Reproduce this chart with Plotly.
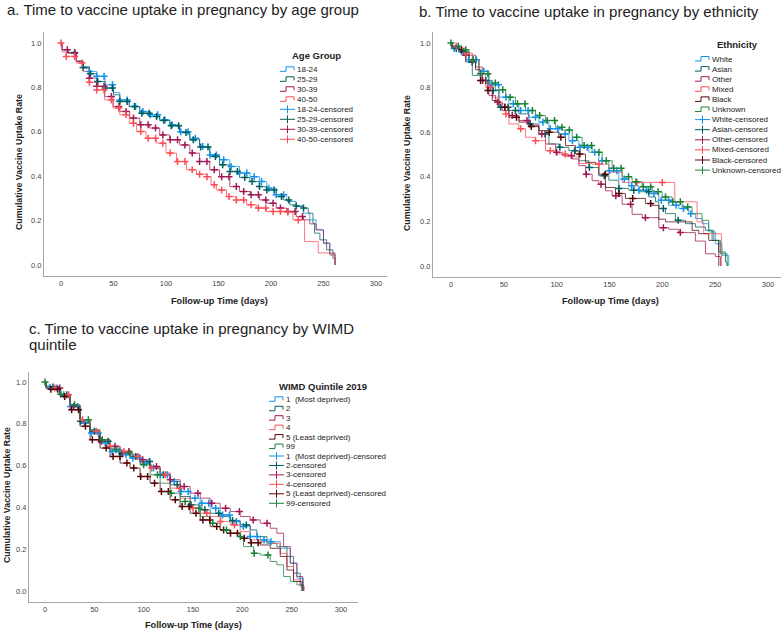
import plotly.graph_objects as go

W, H = 784, 632

# ---------------- Panel a: age group ----------------
a_labels = ["18-24", "25-29", "30-39", "40-50"]
a_days_18_24 = [0, 1, 6.7, 14.6, 21, 27, 34, 42, 50, 56, 65, 75, 84.5, 94, 103.6, 113, 122.7, 132, 141.7, 151, 160.8, 170, 180, 189, 196, 205, 215, 224, 231, 237, 243, 250, 256, 261]
a_surv_18_24 = [1.0, 0.97, 0.955, 0.917, 0.895, 0.872, 0.85, 0.812, 0.777, 0.744, 0.714, 0.692, 0.677, 0.654, 0.632, 0.60, 0.571, 0.534, 0.496, 0.474, 0.444, 0.414, 0.398, 0.376, 0.346, 0.316, 0.286, 0.263, 0.233, 0.203, 0.158, 0.098, 0.053, 0.0]
a_days_25_29 = [0, 1, 6.7, 14.6, 21, 27, 34, 42, 50, 56, 65, 75, 84.5, 94, 103.6, 113, 122.7, 132, 141.7, 151, 160.8, 170, 180, 189, 196, 205, 211.6, 218, 224, 230.7, 235.5, 240, 241.5, 246.6, 253, 259, 261]
a_surv_25_29 = [1.0, 0.97, 0.958, 0.92, 0.89, 0.862, 0.827, 0.797, 0.767, 0.737, 0.714, 0.684, 0.669, 0.651, 0.627, 0.597, 0.564, 0.531, 0.489, 0.451, 0.421, 0.394, 0.376, 0.353, 0.338, 0.308, 0.293, 0.271, 0.266, 0.256, 0.233, 0.188, 0.143, 0.113, 0.068, 0.03, 0.0]
a_days_30_39 = [0, 1, 6.7, 14.6, 21, 27, 34, 41.6, 49.6, 56, 65.5, 75, 84.5, 94, 103.6, 113, 122.7, 132, 141.7, 151, 160.8, 170, 180, 189, 196, 205, 215, 224, 231, 237, 243, 250, 256, 261]
a_surv_30_39 = [1.0, 0.97, 0.955, 0.917, 0.887, 0.842, 0.805, 0.759, 0.714, 0.692, 0.662, 0.632, 0.617, 0.586, 0.564, 0.541, 0.504, 0.466, 0.429, 0.398, 0.353, 0.331, 0.316, 0.293, 0.278, 0.256, 0.241, 0.218, 0.203, 0.185, 0.158, 0.098, 0.045, 0.0]
a_days_40_50 = [0, 1, 5, 14.6, 21, 27, 34, 41.6, 49.6, 56, 65, 72, 81, 91, 100, 110, 119.5, 129, 138.5, 143, 148, 157.6, 167, 176.7, 186, 195.7, 205, 214, 221, 232, 245, 261]
a_surv_40_50 = [1.0, 0.96, 0.94, 0.91, 0.872, 0.823, 0.789, 0.744, 0.707, 0.677, 0.639, 0.601, 0.571, 0.549, 0.504, 0.466, 0.429, 0.409, 0.398, 0.361, 0.338, 0.308, 0.293, 0.271, 0.256, 0.241, 0.241, 0.238, 0.203, 0.105, 0.054, 0.0]
a_cens_18_24 = [27, 34, 41, 49, 56, 63, 71, 78, 85, 92, 99, 106, 114, 121, 128, 135, 142, 148, 155, 162, 170, 177, 184, 191, 198, 205, 212]
a_cens_25_29 = [13, 21, 28, 35, 42, 49, 56, 63, 70, 77, 84, 91, 98, 105, 112, 119, 126, 133, 140, 147, 154, 161, 168, 175, 182, 189, 196, 203, 210, 217, 224, 231]
a_cens_30_39 = [6, 13, 27, 34, 41, 48, 55, 62, 69, 76, 83, 90, 97, 104, 111, 118, 125, 132, 139, 146, 153, 160, 167, 174, 181, 188, 195, 202, 209, 216, 223, 230]
a_cens_40_50 = [0, 5, 13, 20, 27, 34, 41, 48, 55, 62, 69, 76, 83, 90, 97, 104, 111, 118, 125, 132, 139, 146, 153, 160, 167, 174, 181, 188, 195, 202, 209, 216, 226]

# ---------------- Panel b: ethnicity ----------------
b_labels = ["White", "Asian", "Other", "Mixed", "Black", "Unknown"]
b_days_white = [0, 1, 7.6, 17, 26.5, 35.9, 45.4, 54.8, 64.3, 73.7, 83.2, 92.7, 102.1, 111.6, 121, 130.5, 139.9, 149.4, 158.8, 168.3, 177.7, 187.2, 196.7, 206.1, 215.6, 225, 231.3, 237.6, 243.9, 250.2, 256.5, 262.8]
b_surv_white = [1.0, 0.975, 0.96, 0.925, 0.873, 0.813, 0.757, 0.727, 0.697, 0.667, 0.645, 0.615, 0.592, 0.562, 0.532, 0.51, 0.472, 0.427, 0.39, 0.36, 0.34, 0.325, 0.295, 0.272, 0.258, 0.235, 0.213, 0.19, 0.153, 0.10, 0.048, 0.0]
b_days_asian = [0, 1, 7.6, 17, 20.2, 29.6, 39.1, 45.4, 54.8, 64.3, 73.7, 83.2, 92.7, 102.1, 111.6, 121, 130.5, 139.9, 149.4, 158.8, 168.3, 177.7, 187.2, 193.5, 196.7, 203, 212.4, 221.9, 231.3, 240.8, 247.1, 253.4, 259.7, 261.3]
b_surv_asian = [1.0, 0.975, 0.96, 0.915, 0.855, 0.832, 0.787, 0.712, 0.697, 0.682, 0.637, 0.592, 0.547, 0.532, 0.517, 0.472, 0.442, 0.405, 0.385, 0.348, 0.34, 0.333, 0.31, 0.288, 0.258, 0.235, 0.205, 0.19, 0.175, 0.16, 0.115, 0.063, 0.018, 0.0]
b_days_other = [0, 1, 7.6, 13.9, 23.3, 29.6, 35.9, 42.2, 48.5, 54.8, 64.3, 73.7, 83.2, 89.5, 99, 105.3, 114.7, 121, 127.3, 133.6, 139.9, 146.2, 152.5, 162, 171.4, 180.9, 190.4, 196.7, 206.1, 215.6, 225, 231.3, 240.8, 250.2, 255]
b_surv_other = [1.0, 0.98, 0.97, 0.945, 0.892, 0.832, 0.765, 0.735, 0.697, 0.675, 0.652, 0.63, 0.592, 0.547, 0.51, 0.495, 0.48, 0.45, 0.412, 0.383, 0.367, 0.337, 0.315, 0.277, 0.232, 0.217, 0.217, 0.172, 0.165, 0.15, 0.15, 0.112, 0.055, 0.043, 0.0]
b_days_mixed = [0, 1, 7.6, 13.9, 20.2, 26.5, 32.8, 39.1, 45.4, 51.7, 54.8, 64.3, 70.6, 80, 89.5, 99, 108.4, 121, 133.6, 146.2, 149.4, 162, 177.7, 190.4, 211.8, 232.9, 239.2, 255.9]
b_surv_mixed = [1.0, 0.985, 0.977, 0.955, 0.925, 0.862, 0.802, 0.757, 0.727, 0.682, 0.637, 0.615, 0.577, 0.562, 0.517, 0.502, 0.49, 0.46, 0.457, 0.457, 0.42, 0.375, 0.375, 0.375, 0.288, 0.198, 0.145, 0.0]
b_days_black = [0, 1, 7.6, 13.9, 23.3, 28, 34.4, 39.1, 45.4, 54.8, 64.3, 73.7, 83.2, 92.7, 102.1, 108.4, 117.9, 127.3, 136.8, 139.9, 146.2, 155.7, 165.1, 184, 190.4, 196.7, 203, 228.2, 234.5, 243.9, 253.4]
b_surv_black = [1.0, 0.98, 0.97, 0.915, 0.88, 0.832, 0.787, 0.742, 0.712, 0.667, 0.645, 0.625, 0.607, 0.60, 0.577, 0.54, 0.502, 0.465, 0.457, 0.412, 0.352, 0.325, 0.303, 0.28, 0.272, 0.21, 0.198, 0.16, 0.145, 0.115, 0.0]
b_days_unknown = [0, 1, 7.6, 17, 26.5, 35.9, 42.2, 51.7, 61.1, 70.6, 80, 89.5, 99, 105.3, 114.7, 124.2, 133.6, 143.1, 152.5, 162, 171.4, 180.9, 190.4, 199.8, 209.3, 218.7, 228.2, 237.6, 243.9, 248.7, 255, 261.3]
b_surv_unknown = [1.0, 0.985, 0.97, 0.925, 0.862, 0.82, 0.79, 0.757, 0.727, 0.697, 0.675, 0.652, 0.622, 0.61, 0.577, 0.54, 0.51, 0.472, 0.438, 0.40, 0.378, 0.355, 0.333, 0.31, 0.288, 0.265, 0.235, 0.205, 0.16, 0.115, 0.055, 0.0]
b_cens_white = [3, 10, 17, 24, 31, 38, 45, 52, 59, 66, 73, 80, 87, 94, 101, 108, 115, 122, 129, 136, 143, 150, 157, 164, 171, 178, 185, 192, 199, 206, 213, 220, 227]
b_cens_asian = [5, 12, 20, 33, 40, 47, 54, 61, 75, 89, 103, 117, 131, 145, 159, 173, 187, 201, 215]
b_cens_other = [14, 30, 44, 58, 72, 86, 100, 114, 128, 142, 156, 170, 184, 201, 217]
b_cens_mixed = [5, 14, 21, 37, 52, 66, 80, 94, 108, 140, 176, 200]
b_cens_black = [10, 28, 35, 51, 62, 76, 93, 104, 122, 146, 159, 172, 189]
b_cens_unknown = [0, 7, 14, 21, 28, 35, 42, 49, 56, 63, 70, 77, 84, 91, 98, 105, 112, 119, 126, 133, 140, 147, 154, 161, 168, 175, 182, 189, 196, 203, 210, 217, 224]

# ---------------- Panel c: WIMD quintile ----------------
c_labels = ["1  (Most deprived)", "2", "3", "4", "5 (Least deprived)", "99"]
c_days_1 = [0, 1, 5.1, 15.2, 25.4, 35.5, 45.7, 55.8, 65.9, 76.1, 86.2, 96.4, 106.5, 116.7, 126.8, 137, 147.1, 157.3, 167.4, 177.5, 187.7, 197.8, 208, 218.1, 228.3, 238.4, 248.6, 255.3, 262]
c_surv_1 = [1.0, 0.975, 0.971, 0.939, 0.883, 0.804, 0.756, 0.708, 0.668, 0.652, 0.636, 0.612, 0.588, 0.556, 0.524, 0.476, 0.444, 0.42, 0.396, 0.364, 0.332, 0.308, 0.26, 0.244, 0.236, 0.204, 0.133, 0.061, 0.0]
c_days_2 = [0, 1, 5.1, 15.2, 25.4, 35.5, 45.7, 55.8, 65.9, 76.1, 86.2, 96.4, 106.5, 116.7, 126.8, 137, 147.1, 157.3, 167.4, 177.5, 187.7, 197.8, 208, 214.7, 224.9, 235, 245.2, 251.9, 258.7, 262]
c_surv_2 = [1.0, 0.98, 0.976, 0.939, 0.887, 0.812, 0.764, 0.716, 0.684, 0.66, 0.644, 0.62, 0.588, 0.556, 0.508, 0.452, 0.412, 0.388, 0.372, 0.356, 0.337, 0.316, 0.292, 0.26, 0.228, 0.212, 0.165, 0.085, 0.029, 0.0]
c_days_3 = [0, 1, 5.1, 15.2, 25.4, 35.5, 45.7, 55.8, 65.9, 76.1, 86.2, 96.4, 106.5, 116.7, 126.8, 137, 147.1, 157.3, 167.4, 177.5, 187.7, 197.8, 208, 218.1, 228.3, 235, 241.8, 248.6, 255.3, 261]
c_surv_3 = [1.0, 0.975, 0.971, 0.935, 0.883, 0.804, 0.756, 0.716, 0.692, 0.668, 0.652, 0.628, 0.596, 0.564, 0.532, 0.5, 0.468, 0.444, 0.42, 0.396, 0.38, 0.356, 0.34, 0.324, 0.3, 0.276, 0.212, 0.133, 0.069, 0.0]
c_days_4 = [0, 1, 5.1, 15.2, 25.4, 35.5, 45.7, 55.8, 65.9, 76.1, 86.2, 96.4, 106.5, 116.7, 126.8, 137, 147.1, 157.3, 167.4, 177.5, 187.7, 197.8, 208, 218.1, 228.3, 238.4, 245.2, 251.9, 258.7, 262.7]
c_surv_4 = [1.0, 0.975, 0.971, 0.939, 0.891, 0.819, 0.764, 0.724, 0.692, 0.668, 0.644, 0.612, 0.588, 0.556, 0.492, 0.444, 0.396, 0.372, 0.356, 0.332, 0.316, 0.284, 0.244, 0.236, 0.228, 0.18, 0.117, 0.053, 0.021, 0.0]
c_days_5 = [0, 1, 5.1, 15.2, 25.4, 35.5, 45.7, 55.8, 65.9, 76.1, 86.2, 96.4, 106.5, 116.7, 126.8, 137, 147.1, 157.3, 167.4, 177.5, 187.7, 197.8, 208, 218.1, 228.3, 238.4, 245.2, 251.9, 260.4]
c_surv_5 = [1.0, 0.97, 0.966, 0.931, 0.867, 0.788, 0.724, 0.684, 0.644, 0.612, 0.588, 0.548, 0.516, 0.476, 0.436, 0.404, 0.372, 0.34, 0.308, 0.292, 0.276, 0.252, 0.231, 0.22, 0.204, 0.165, 0.10, 0.045, 0.0]
c_days_99 = [0, 1, 5.1, 15.2, 25.4, 35.5, 45.7, 55.8, 65.9, 76.1, 86.2, 96.4, 106.5, 116.7, 126.8, 137, 147.1, 157.3, 167.4, 177.5, 187.7, 197.8, 201.2, 211.4, 218.1, 228.3, 235, 241.8, 248.6, 255.3, 260.4]
c_surv_99 = [1.0, 0.98, 0.976, 0.942, 0.891, 0.819, 0.772, 0.724, 0.676, 0.66, 0.644, 0.604, 0.556, 0.516, 0.468, 0.428, 0.396, 0.356, 0.324, 0.292, 0.276, 0.26, 0.212, 0.18, 0.172, 0.141, 0.125, 0.069, 0.045, 0.029, 0.0]
c_cens_1 = [5, 12, 19, 26, 33, 40, 47, 54, 61, 68, 75, 82, 89, 96, 103, 110, 117, 124, 131, 138, 145, 152, 159, 166, 173, 180, 187, 194, 201, 208, 215, 222, 229]
c_cens_2 = [8, 22, 36, 50, 64, 78, 92, 106, 120, 134, 148, 162, 176, 190, 204]
c_cens_3 = [15, 29, 57, 71, 85, 99, 113, 127, 141, 155, 169, 183, 197, 211, 225]
c_cens_4 = [10, 24, 38, 52, 66, 80, 94, 108, 122, 136, 150, 164, 178, 192]
c_cens_5 = [6, 13, 20, 27, 34, 41, 48, 55, 62, 69, 76, 83, 90, 97, 104, 111, 118, 125, 132, 139, 146, 153, 160, 167, 174, 181, 188, 195, 202, 209, 216]
c_cens_99 = [0, 16, 30, 44, 58, 72, 86, 100, 114, 128, 142, 156, 170, 184, 198, 212, 226]

x_ticks = [0, 50, 100, 150, 200, 250, 300]
y_ticks = [0.0, 0.2, 0.4, 0.6, 0.8, 1.0]

BLUE, TEAL, MAG, RED, DRED, GREEN = "#1192e8", "#005d5d", "#9f1853", "#fa4d56", "#570408", "#198038"
a_colors = [BLUE, TEAL, MAG, RED]
b_colors = [BLUE, TEAL, MAG, RED, DRED, GREEN]
c_colors = [BLUE, TEAL, MAG, RED, DRED, GREEN]

panels = [
    ("x", "y", a_labels, a_colors,
     [(a_days_18_24, a_surv_18_24, a_cens_18_24), (a_days_25_29, a_surv_25_29, a_cens_25_29),
      (a_days_30_39, a_surv_30_39, a_cens_30_39), (a_days_40_50, a_surv_40_50, a_cens_40_50)]),
    ("x2", "y2", b_labels, b_colors,
     [(b_days_white, b_surv_white, b_cens_white), (b_days_asian, b_surv_asian, b_cens_asian),
      (b_days_other, b_surv_other, b_cens_other), (b_days_mixed, b_surv_mixed, b_cens_mixed),
      (b_days_black, b_surv_black, b_cens_black), (b_days_unknown, b_surv_unknown, b_cens_unknown)]),
    ("x3", "y3", c_labels, c_colors,
     [(c_days_1, c_surv_1, c_cens_1), (c_days_2, c_surv_2, c_cens_2), (c_days_3, c_surv_3, c_cens_3),
      (c_days_4, c_surv_4, c_cens_4), (c_days_5, c_surv_5, c_cens_5), (c_days_99, c_surv_99, c_cens_99)]),
]


def surv_at(days, surv, t):
    v = surv[0]
    for d, s in zip(days, surv):
        if d <= t:
            v = s
    return v


fig = go.Figure()
for xa, ya, labels, colors, series in panels:
    for lab, col, (d, s, c) in zip(labels, colors, series):
        assert len(d) == len(s), lab
        fig.add_trace(go.Scatter(x=d, y=s, mode="lines", line=dict(color=col, width=1, shape="hv"),
                                 opacity=0.75, xaxis=xa, yaxis=ya, name=lab, showlegend=False,
                                 hoverinfo="skip"))
    for lab, col, (d, s, c) in zip(labels, colors, series):
        fig.add_trace(go.Scatter(x=c, y=[surv_at(d, s, t) for t in c], mode="markers",
                                 marker=dict(symbol="cross-thin", size=5, line=dict(color=col, width=1.5)),
                                 xaxis=xa, yaxis=ya, name=lab + "-censored", showlegend=False,
                                 hoverinfo="skip"))

SANS = "Liberation Sans, Arial, sans-serif"
AXC = "#a6a6a6"


def px(x):
    return x / W


def py(y):
    return 1 - y / H


def xaxis(left, right, xmin, xmax, anchor):
    return dict(domain=[px(left), px(right)], range=[xmin, xmax], anchor=anchor, showline=True,
                linecolor=AXC, linewidth=1, ticks="", showgrid=False, zeroline=False,
                tickvals=x_ticks, tickfont=dict(family=SANS, size=7.5, color="#444"))


def yaxis(top, bottom, ymin, ymax, anchor):
    return dict(domain=[py(bottom), py(top)], range=[ymin, ymax], anchor=anchor, showline=True,
                linecolor=AXC, linewidth=1, ticks="", showgrid=False, zeroline=False,
                tickvals=y_ticks, tickformat=".1f", tickfont=dict(family=SANS, size=7.5, color="#444"))


annotations = []
shapes = []


def text(x, y, s, size, bold=False, xanchor="left", angle=0, color="#222"):
    annotations.append(dict(x=px(x), y=py(y), xref="paper", yref="paper", text=("<b>%s</b>" % s) if bold else s,
                            showarrow=False, xanchor=xanchor, yanchor="middle", textangle=angle,
                            font=dict(family=SANS, size=size, color=color)))


def legend(title, title_x, title_y, labels, colors, sym_x, row0, dy):
    text(title_x, title_y, title, 9.5, bold=True, xanchor="center")
    n = len(labels)
    for i, (lab, col) in enumerate(zip(labels, colors)):
        y = row0 + i * dy
        path = "M %f,%f L %f,%f L %f,%f L %f,%f L %f,%f" % (
            px(sym_x), py(y + 2), px(sym_x + 6), py(y + 2), px(sym_x + 6), py(y - 2.5),
            px(sym_x + 14), py(y - 2.5), px(sym_x + 14), py(y + 1))
        shapes.append(dict(type="path", path=path, xref="paper", yref="paper",
                           line=dict(color=col, width=1)))
        text(sym_x + 15, y, lab, 8)
    for i, (lab, col) in enumerate(zip(labels, colors)):
        y = row0 + (n + i) * dy
        shapes.append(dict(type="line", xref="paper", yref="paper", x0=px(sym_x), x1=px(sym_x + 15),
                           y0=py(y), y1=py(y), line=dict(color=col, width=1)))
        shapes.append(dict(type="line", xref="paper", yref="paper", x0=px(sym_x + 7.5), x1=px(sym_x + 7.5),
                           y0=py(y - 4), y1=py(y + 4), line=dict(color=col, width=1)))
        text(sym_x + 15, y, lab + "-censored", 8)


# titles
text(5, 10, "a. Time to vaccine uptake in pregnancy by age group", 15)
text(417, 12, "b. Time to vaccine uptake in pregnancy by ethnicity", 15)
text(27, 328, "c. Time to vaccine uptake in pregnancy by WIMD", 15)
text(27, 344, "quintile", 15)

# axis titles
text(19, 162, "Cumulative Vaccine Uptake Rate", 8.8, bold=True, xanchor="center", angle=-90)
text(219, 301, "Follow-up Time (days)", 9.2, bold=True, xanchor="center")
text(407, 163, "Cumulative Vaccine Uptake Rate", 8.8, bold=True, xanchor="center", angle=-90)
text(610, 301, "Follow-up Time (days)", 9.2, bold=True, xanchor="center")
text(7, 495, "Cumulative Vaccine Uptake Rate", 8.8, bold=True, xanchor="center", angle=-90)
text(193, 625, "Follow-up Time (days)", 9.2, bold=True, xanchor="center")

# legends
legend("Age Group", 316, 55, a_labels, a_colors, 280, 69.3, 10)
legend("Ethnicity", 737, 44, b_labels, b_colors, 695, 59, 10.1)
legend("WIMD Quintile 2019", 323, 386, c_labels, c_colors, 269, 399.3, 9.45)

fig.update_layout(
    width=W, height=H, margin=dict(l=0, r=0, t=0, b=0),
    paper_bgcolor="white", plot_bgcolor="white", showlegend=False,
    xaxis=xaxis(44, 387, -16.2, 310.5, "y"),
    yaxis=yaxis(32, 276, -0.05, 1.05, "x"),
    xaxis2=xaxis(433, 781, -17, 312.3, "y2"),
    yaxis2=yaxis(32, 277, -0.049, 1.049, "x2"),
    xaxis3=xaxis(29, 358, -16.2, 317.2, "y3"),
    yaxis3=yaxis(372, 602, -0.053, 1.048, "x3"),
    annotations=annotations, shapes=shapes,
)

# remove the browser's default 8px body margin so the figure sits at the window's top-left corner
fig.write_html("out.html", config={"displayModeBar": False},
               post_script="document.body.style.margin='0px';")
